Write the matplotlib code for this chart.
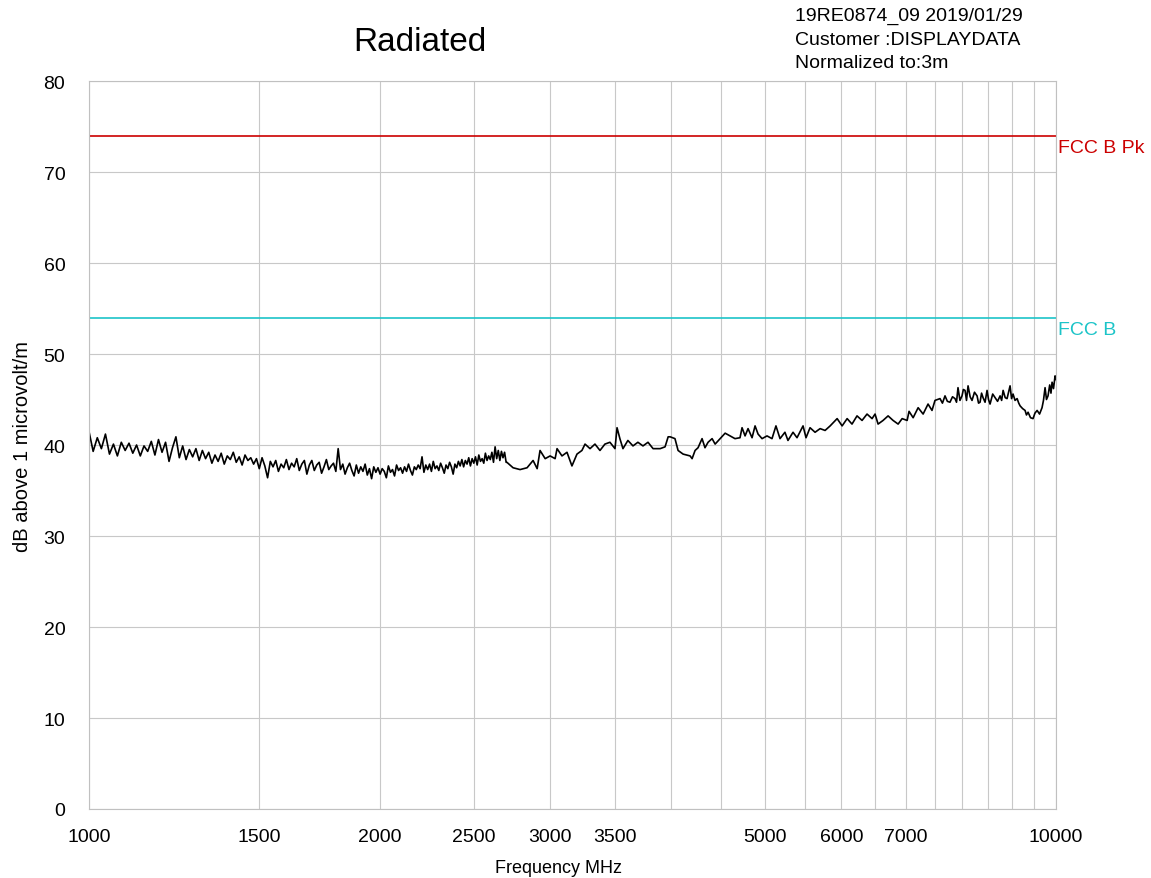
import numpy as np
import matplotlib.pyplot as plt
from matplotlib.ticker import FixedLocator, NullFormatter

plt.rcParams['font.family'] = ['Liberation Sans', 'DejaVu Sans']

# dense sweep 1000-2700 MHz, 10 MHz step
sweep_start, sweep_stop, sweep_step = 1000, 2700, 10
level_dense = [
    41.5, 39.3, 40.8, 39.6, 41.2, 39.0, 40.1, 38.8, 40.3, 39.4,
    40.2, 39.1, 40.0, 38.8, 39.9, 39.3, 40.4, 38.9, 40.6, 39.2,
    40.3, 38.2, 39.7, 40.9, 38.6, 39.9, 38.4, 39.5, 38.7, 39.6,
    38.3, 39.4, 38.5, 39.2, 38.0, 38.9, 38.2, 39.1, 37.9, 38.8,
    38.4, 39.2, 38.1, 38.7, 37.8, 38.9, 38.3, 38.6, 37.9, 38.5,
    37.4, 38.6, 37.7, 36.4, 38.2, 37.6, 38.3, 37.1, 37.9, 37.5,
    38.4, 37.3, 38.0, 37.6, 38.5, 37.2, 37.9, 38.3, 36.8, 37.8,
    38.3, 37.2, 37.8, 38.1, 36.9, 37.6, 38.4, 37.3, 37.7, 38.0,
    37.1, 39.6, 37.3, 37.9, 36.8, 37.5, 38.0, 37.2, 36.6, 37.8,
    36.9, 37.6, 37.1, 37.9, 36.7, 37.4, 36.3, 37.6, 37.0, 37.5,
    36.8, 37.4, 37.1, 36.4, 37.7, 37.0, 37.3, 36.6, 37.8, 37.2,
    37.5, 36.9, 37.6, 37.1, 37.9, 37.2, 36.7, 37.6, 37.3, 37.8,
    37.4, 38.7, 37.0, 37.8, 37.3, 37.9, 37.1, 38.2, 37.4, 37.7,
    37.2, 38.0, 37.5, 36.9, 37.8, 37.4, 38.1, 37.6, 36.8, 37.9,
    37.5, 38.2, 37.7, 38.4, 37.6, 38.3, 37.9, 38.6, 37.7, 38.5,
    38.0, 38.7, 37.8, 38.9, 38.2, 38.5, 38.0, 39.1, 38.3, 38.8,
    38.4, 39.2, 38.1, 39.8, 38.5, 39.4, 38.3, 39.3, 38.6, 39.2,
    38.1,
]

# sparse part of the sweep
freq_mid = [
    2705, 2745, 2791, 2838, 2879, 2907, 2927, 2963, 2998, 3034,
    3048, 3084, 3121, 3158, 3196, 3234, 3258, 3297, 3336, 3376,
    3416, 3457, 3499, 3516, 3540, 3566, 3608, 3652, 3695, 3740,
    3785, 3831, 3896, 3942, 3971, 3990, 4036, 4066, 4115, 4184,
    4204, 4234, 4264, 4305, 4335, 4367, 4409, 4441, 4494, 4548,
    4602, 4656, 4712, 4735, 4769, 4803, 4849, 4884, 4919, 4966,
    5025, 5085, 5133, 5183, 5244, 5282, 5346, 5397, 5475, 5514,
    5567, 5634, 5702, 5770, 5840, 5938, 6009, 6081, 6152, 6226,
    6301, 6376, 6453, 6499, 6546, 6624, 6704, 6784, 6866, 6932,
    7015, 7047, 7116, 7201, 7287, 7373, 7443, 7496,
]
level_mid = [
    38.1, 37.5, 37.3, 37.5, 38.3, 37.4, 39.4, 38.5, 38.8, 38.5,
    39.6, 38.8, 39.2, 37.7, 39.0, 39.4, 40.1, 39.6, 40.1, 39.4,
    40.1, 40.3, 39.6, 41.9, 40.7, 39.6, 40.5, 39.9, 40.3, 39.9,
    40.3, 39.6, 39.6, 39.8, 40.9, 40.9, 40.7, 39.4, 39.0, 38.8,
    38.5, 39.4, 39.7, 40.7, 39.7, 40.3, 40.7, 40.1, 40.7, 41.3,
    41.0, 40.7, 40.8, 41.9, 41.0, 41.8, 40.8, 42.1, 41.2, 40.7,
    41.0, 40.7, 42.1, 40.7, 41.4, 40.5, 41.4, 40.8, 42.1, 40.8,
    41.9, 41.4, 41.8, 41.6, 42.1, 42.9, 42.1, 42.9, 42.3, 43.2,
    42.7, 43.4, 42.9, 43.4, 42.3, 42.7, 43.2, 42.7, 42.3, 42.9,
    42.7, 43.7, 43.0, 44.1, 43.4, 44.5, 43.8, 44.9,
]

# dense part near the top of the band
freq_high = [
    7586, 7630, 7677, 7720, 7768, 7815, 7862, 7890, 7918, 7955,
    7994, 8020, 8052, 8080, 8110, 8150, 8187, 8235, 8286, 8315,
    8345, 8375, 8405, 8445, 8485, 8515, 8546, 8600, 8649, 8700,
    8753, 8785, 8816, 8860, 8899, 8930, 8963, 8995, 9027, 9070,
    9115, 9150, 9180, 9235, 9289, 9320, 9356, 9410, 9467, 9510,
    9559, 9615, 9672, 9705, 9742, 9775, 9811, 9850, 9880, 9906,
    9940, 9977, 10000,
]
level_high = [
    45.1, 44.6, 45.4, 44.8, 44.7, 45.3, 45.1, 44.7, 46.3, 44.9,
    45.4, 46.1, 46.0, 44.9, 46.5, 45.3, 44.9, 45.8, 45.4, 44.6,
    44.7, 45.7, 45.2, 44.7, 46.0, 45.0, 44.5, 45.6, 45.2, 44.8,
    45.4, 44.9, 46.0, 45.2, 45.1, 45.8, 46.5, 45.1, 45.6, 44.9,
    45.1, 44.6, 44.3, 44.0, 43.8, 43.3, 43.6, 43.0, 42.9, 43.5,
    43.8, 43.4, 44.1, 44.9, 46.3, 45.0, 45.4, 46.6, 45.7, 46.9,
    46.2, 47.6, 47.2,
]

# limit lines
limit_names = ['FCC B Pk', 'FCC B']
limit_levels = [74, 54]
limit_colors = ['#cc0000', '#1cc4c8']

major_ticks = [1000, 1500, 2000, 2500, 3000, 3500, 5000, 6000, 7000, 10000]
grid_ticks = list(range(1000, 10001, 500))

freq = np.concatenate([np.arange(sweep_start, sweep_stop + 1, sweep_step),
                       freq_mid, freq_high])
level = np.concatenate([level_dense, level_mid, level_high])

fig = plt.figure(figsize=(11.51, 8.79), dpi=100)
ax = fig.add_axes([0.0773, 0.0785, 0.8402, 0.8282])

ax.plot(freq, level, color='black', lw=1.2)
for name, lv, c in zip(limit_names, limit_levels, limit_colors):
    ax.axhline(lv, color=c, lw=1.2)
    ax.text(10050, lv - 1.3, name, color=c, fontsize=14, va='center',
            ha='left', clip_on=False)

ax.set_xscale('log')
ax.set_xlim(1000, 10000)
ax.set_ylim(0, 80)
ax.xaxis.set_major_locator(FixedLocator(major_ticks))
ax.xaxis.set_minor_locator(FixedLocator(grid_ticks))
ax.xaxis.set_major_formatter(plt.FuncFormatter(lambda v, p: '%d' % v))
ax.xaxis.set_minor_formatter(NullFormatter())
ax.set_yticks(range(0, 81, 10))
ax.grid(True, which='both', color='#c8c8c8', lw=0.8)
ax.set_axisbelow(True)
ax.tick_params(which='both', length=0, labelsize=14)
ax.tick_params(axis='x', pad=14)
ax.tick_params(axis='y', pad=17)
for s in ax.spines.values():
    s.set_color('#c0c0c0')
    s.set_linewidth(0.8)

ax.set_xlabel('Frequency MHz', fontsize=13)
ax.set_ylabel('dB above 1 microvolt/m', fontsize=14.5)
ax.xaxis.set_label_coords(0.486, -0.068)
ax.yaxis.set_label_coords(-0.059, 0.5)

fig.text(0.365, 0.952, 'Radiated', fontsize=24, ha='center', va='center')
fig.text(0.6907, 0.991,
         '19RE0874_09 2019/01/29\nCustomer :DISPLAYDATA\nNormalized to:3m',
         fontsize=14, ha='left', va='top', linespacing=1.5)

fig.savefig('out.png', dpi=100)
